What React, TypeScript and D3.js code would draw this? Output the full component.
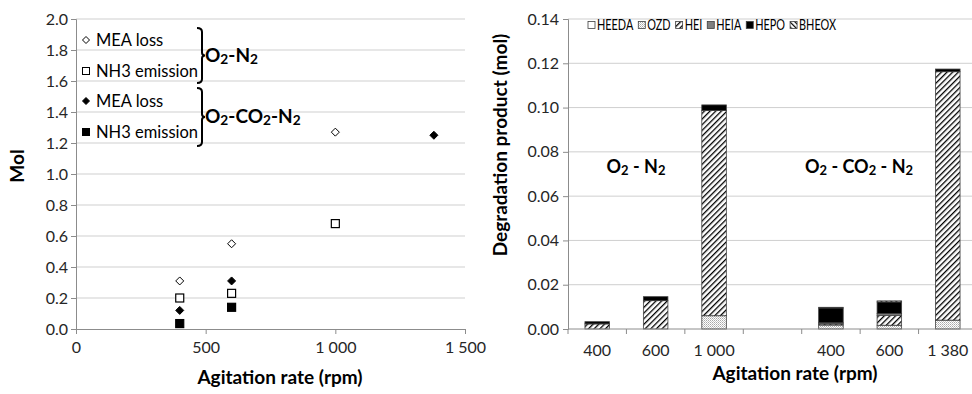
import React, { useEffect, useRef } from 'react';
import * as d3 from 'd3';

// left panel: MEA loss and NH3 emission (mol) vs agitation rate
const rpmO2N2 = [400, 600, 1000];
const meaLossO2N2 = [0.31, 0.55, 1.27];
const nh3O2N2 = [0.2, 0.23, 0.68];
const rpmMeaCO2 = [400, 600, 1380];
const meaLossCO2 = [0.12, 0.31, 1.25];
const rpmNh3CO2 = [400, 600];
const nh3CO2 = [0.035, 0.14];
const leftYTicks = [0, 0.2, 0.4, 0.6, 0.8, 1.0, 1.2, 1.4, 1.6, 1.8, 2.0];
const leftXTicks = [0, 500, 1000, 1500];

// right panel: degradation products (mol), stacked
const barLabels = ['400', '600', '1 000', '', '400', '600', '1 380'];
const productNames = ['HEEDA', 'OZD', 'HEI', 'HEIA', 'HEPO', 'BHEOX'];
const heeda = [0, 0, 0, 0, 0, 0, 0];
const ozd = [0, 0, 0.006, 0, 0.0018, 0.0017, 0.004];
const hei = [0.0023, 0.0128, 0.0927, 0, 0.0005, 0.0045, 0.1122];
const heia = [0, 0, 0, 0, 0.0005, 0.0008, 0];
const hepo = [0.001, 0.0018, 0.0025, 0, 0.0067, 0.0052, 0.0012];
const bheox = [0, 0, 0, 0, 0.0003, 0.0005, 0];
const rightYTicks = [0, 0.02, 0.04, 0.06, 0.08, 0.1, 0.12, 0.14];

const FONT = 'Lato, "Open Sans", sans-serif';
const GRID = '#cfcfcf';
const AXIS = '#8c8c8c';
const TICK_FS = 16;
const TITLE_FS = 19;

type Part = [string, boolean];

// text with small subscript digits (O2, CO2, N2)
function subText(g: any, parts: Part[], size: number) {
  parts.forEach(([t, sub], i) => {
    const ts = g.append('tspan').text(t);
    if (sub) ts.attr('font-size', size * 0.72).attr('dy', 2);
    else if (i > 0) ts.attr('dy', -2);
  });
}

const App = () => {
  const svgRef = useRef<SVGSVGElement>(null);

  useEffect(() => {
    const svg = d3.select(svgRef.current);
    svg.selectAll('*').remove();
    svg.style('font-family', FONT);

    // ---------- patterns ----------
    const defs = svg.append('defs');
    const pOzd = defs.append('pattern').attr('id', 'ozd').attr('patternUnits', 'userSpaceOnUse')
      .attr('width', 2).attr('height', 2);
    pOzd.append('rect').attr('width', 2).attr('height', 2).attr('fill', '#fff');
    pOzd.append('rect').attr('width', 1).attr('height', 1).attr('fill', '#a8a8a8');
    pOzd.append('rect').attr('x', 1).attr('y', 1).attr('width', 1).attr('height', 1).attr('fill', '#c8c8c8');

    const hatch = (id: string, w: number, angle: number, sw: number) => {
      const p = defs.append('pattern').attr('id', id).attr('patternUnits', 'userSpaceOnUse')
        .attr('width', w).attr('height', w).attr('patternTransform', `rotate(${angle})`);
      p.append('rect').attr('width', w).attr('height', w).attr('fill', '#fff');
      p.append('line').attr('x1', 0.5).attr('x2', 0.5).attr('y1', 0).attr('y2', w)
        .attr('stroke', '#000').attr('stroke-width', sw);
    };
    hatch('hei', 4, 45, 1.6);
    hatch('bheox', 3.5, -45, 1.4);

    const fills: Record<string, string> = {
      HEEDA: '#ffffff',
      OZD: 'url(#ozd)',
      HEI: 'url(#hei)',
      HEIA: '#808080',
      HEPO: '#000000',
      BHEOX: 'url(#bheox)',
    };

    // ================= LEFT PANEL =================
    const x = d3.scaleLinear().domain([0, 1500]).range([76, 465]);
    const y = d3.scaleLinear().domain([0, 2]).range([329, 19]);
    const left = svg.append('g');

    left.append('g').selectAll('line').data(leftYTicks.slice(1)).enter().append('line')
      .attr('x1', 76).attr('x2', 465).attr('y1', (d) => y(d)).attr('y2', (d) => y(d))
      .attr('stroke', GRID);

    const yAxisL = left.append('g').attr('transform', 'translate(76,0)')
      .call(d3.axisLeft(y).tickValues(leftYTicks).tickFormat(d3.format('.1f')).tickSize(5).tickPadding(3));
    const xFmt = d3.formatLocale({ decimal: '.', thousands: ' ', grouping: [3], currency: ['', ''] }).format(',');
    const xAxisL = left.append('g').attr('transform', 'translate(0,329)')
      .call(d3.axisBottom(x).tickValues(leftXTicks).tickFormat((d: any) => xFmt(d)).tickSize(5).tickPadding(8));
    [yAxisL, xAxisL].forEach((a) => {
      a.select('.domain').attr('stroke', AXIS);
      a.selectAll('.tick line').attr('stroke', AXIS);
      a.selectAll('.tick text').attr('font-size', TICK_FS).attr('fill', '#262626').attr('font-family', FONT);
    });

    const diamond = (cx: number, cy: number, r: number) =>
      `M${cx},${cy - r}L${cx + r},${cy}L${cx},${cy + r}L${cx - r},${cy}Z`;

    const drawDiamonds = (xs: number[], ys: number[], filled: boolean) => {
      left.append('g').selectAll('path').data(xs).enter().append('path')
        .attr('d', (d, i) => diamond(x(d), y(ys[i]), 4))
        .attr('fill', filled ? '#000' : '#fff').attr('stroke', '#000').attr('stroke-width', 1);
    };
    const drawSquares = (xs: number[], ys: number[], filled: boolean) => {
      left.append('g').selectAll('rect').data(xs).enter().append('rect')
        .attr('x', (d) => x(d) - 4).attr('y', (d, i) => y(ys[i]) - 4)
        .attr('width', 8).attr('height', 8)
        .attr('fill', filled ? '#000' : '#fff').attr('stroke', '#000').attr('stroke-width', 1.2);
    };
    drawDiamonds(rpmO2N2, meaLossO2N2, false);
    drawSquares(rpmO2N2, nh3O2N2, false);
    drawDiamonds(rpmMeaCO2, meaLossCO2, true);
    drawSquares(rpmNh3CO2, nh3CO2, true);

    // legend with brackets
    const leg = left.append('g');
    const legItems = [
      { label: 'MEA loss', shape: 'd', filled: false, y: 40 },
      { label: 'NH3 emission', shape: 's', filled: false, y: 71 },
      { label: 'MEA loss', shape: 'd', filled: true, y: 101 },
      { label: 'NH3 emission', shape: 's', filled: true, y: 132 },
    ];
    legItems.forEach((it) => {
      if (it.shape === 'd') {
        leg.append('path').attr('d', diamond(86, it.y, 3.5))
          .attr('fill', it.filled ? '#000' : '#fff').attr('stroke', '#000');
      } else {
        leg.append('rect').attr('x', 82.5).attr('y', it.y - 3.5).attr('width', 7).attr('height', 7)
          .attr('fill', it.filled ? '#000' : '#fff').attr('stroke', '#000');
      }
      leg.append('text').attr('x', 96).attr('y', it.y).attr('dy', '0.35em')
        .attr('font-size', 16.5).attr('fill', '#000').text(it.label);
    });
    const brace = (y0: number, y1: number) => {
      const m = (y0 + y1) / 2;
      return `M197,${y0} Q202,${y0} 202,${y0 + 4} V${m - 3} Q202,${m} 205,${m} Q202,${m} 202,${m + 3} V${y1 - 4} Q202,${y1} 197,${y1}`;
    };
    leg.append('path').attr('d', brace(28, 83)).attr('fill', 'none').attr('stroke', '#000').attr('stroke-width', 2);
    leg.append('path').attr('d', brace(88, 146)).attr('fill', 'none').attr('stroke', '#000').attr('stroke-width', 2);
    const t1 = leg.append('text').attr('x', 205).attr('y', 62).attr('font-size', 19).attr('font-weight', 'bold');
    subText(t1, [['O', false], ['2', true], ['-N', false], ['2', true]], 19);
    const t2 = leg.append('text').attr('x', 205).attr('y', 123).attr('font-size', 19).attr('font-weight', 'bold');
    subText(t2, [['O', false], ['2', true], ['-CO', false], ['2', true], ['-N', false], ['2', true]], 19);

    left.append('text').attr('transform', 'translate(24,166) rotate(-90)').attr('text-anchor', 'middle')
      .attr('font-size', TITLE_FS).attr('font-weight', 'bold').text('Mol');
    left.append('text').attr('x', 280).attr('y', 384).attr('text-anchor', 'middle')
      .attr('font-size', TITLE_FS).attr('font-weight', 'bold').text('Agitation rate (rpm)');

    // ================= RIGHT PANEL =================
    const xb = d3.scaleBand<number>().domain(d3.range(barLabels.length)).range([568, 977])
      .paddingInner(0.58).paddingOuter(0.29);
    const yr = d3.scaleLinear().domain([0, 0.14]).range([329, 19]);
    const right = svg.append('g');

    right.append('g').selectAll('line').data(rightYTicks.slice(1)).enter().append('line')
      .attr('x1', 568).attr('x2', 972).attr('y1', (d) => yr(d)).attr('y2', (d) => yr(d))
      .attr('stroke', GRID);

    const table = barLabels.map((_, i) => ({
      HEEDA: heeda[i], OZD: ozd[i], HEI: hei[i], HEIA: heia[i], HEPO: hepo[i], BHEOX: bheox[i],
    }));
    const series = d3.stack<any>().keys(productNames)(table);
    right.append('g').selectAll('g').data(series).enter().append('g')
      .attr('fill', (s: any) => fills[s.key])
      .selectAll('rect').data((s: any) => s.map((d: any, i: number) => ({ d, i })))
      .enter().append('rect')
      .filter((o: any) => o.d[1] - o.d[0] > 0)
      .attr('x', (o: any) => xb(o.i) as number)
      .attr('width', xb.bandwidth())
      .attr('y', (o: any) => yr(o.d[1]))
      .attr('height', (o: any) => yr(o.d[0]) - yr(o.d[1]))
      .attr('stroke', '#404040').attr('stroke-width', 0.8);

    const yAxisR = right.append('g').attr('transform', 'translate(568,0)')
      .call(d3.axisLeft(yr).tickValues(rightYTicks).tickFormat(d3.format('.2f')).tickSize(5).tickPadding(4));
    yAxisR.select('.domain').attr('stroke', AXIS);
    yAxisR.selectAll('.tick line').attr('stroke', AXIS);
    yAxisR.selectAll('.tick text').attr('font-size', TICK_FS).attr('fill', '#262626').attr('font-family', FONT);

    // category axis
    const step = xb.step();
    right.append('line').attr('x1', 568).attr('x2', 972).attr('y1', 329).attr('y2', 329).attr('stroke', AXIS);
    right.append('g').selectAll('line').data(d3.range(barLabels.length + 1)).enter().append('line')
      .attr('x1', (i) => 568 + i * step).attr('x2', (i) => 568 + i * step)
      .attr('y1', 329).attr('y2', 334).attr('stroke', AXIS);
    right.append('g').selectAll('text').data(barLabels).enter().append('text')
      .attr('x', (d, i) => (xb(i) as number) + xb.bandwidth() / 2).attr('y', 350).attr('dy', '0.35em')
      .attr('text-anchor', 'middle').attr('font-size', TICK_FS).attr('fill', '#262626').text((d) => d);

    // legend: narrower face in the original, so squeeze the labels to its span
    const lg = right.append('g');
    const legStart = 588;
    const legEnd = 836;
    const labels = productNames.map((name) =>
      lg.append('text').attr('y', 25).attr('dy', '0.35em').attr('font-size', 14.5).attr('fill', '#000').text(name));
    const widths = labels.map((t) => (t.node() as SVGTextElement).getComputedTextLength());
    const fixed = productNames.length * 9 + (productNames.length - 1) * 5;
    const k = Math.min(1, (legEnd - legStart - fixed) / d3.sum(widths));
    let lx = legStart;
    productNames.forEach((name, i) => {
      lg.append('rect').attr('x', lx).attr('y', 21.5).attr('width', 7).attr('height', 7)
        .attr('fill', fills[name]).attr('stroke', '#404040').attr('stroke-width', 0.8);
      const w = widths[i] * k;
      labels[i].attr('x', lx + 9).attr('textLength', w).attr('lengthAdjust', 'spacingAndGlyphs');
      lx += 9 + w + 5;
    });

    // group annotations
    const a1 = right.append('text').attr('x', 636).attr('y', 173).attr('text-anchor', 'middle')
      .attr('font-size', 18).attr('font-weight', 'bold');
    subText(a1, [['O', false], ['2', true], [' - N', false], ['2', true]], 18);
    const a2 = right.append('text').attr('x', 859).attr('y', 173).attr('text-anchor', 'middle')
      .attr('font-size', 18).attr('font-weight', 'bold');
    subText(a2, [['O', false], ['2', true], [' - CO', false], ['2', true], [' - N', false], ['2', true]], 18);

    right.append('text').attr('transform', 'translate(507,145) rotate(-90)').attr('text-anchor', 'middle')
      .attr('font-size', TITLE_FS).attr('font-weight', 'bold').text('Degradation product (mol)');
    right.append('text').attr('x', 795).attr('y', 380).attr('text-anchor', 'middle')
      .attr('font-size', TITLE_FS).attr('font-weight', 'bold').text('Agitation rate (rpm)');
  }, []);

  return (
    <div style={{ position: 'absolute', left: 0, top: 0 }}>
      <svg ref={svgRef} width={972} height={394} style={{ display: 'block', background: '#fff' }} />
    </div>
  );
};

export default App;
